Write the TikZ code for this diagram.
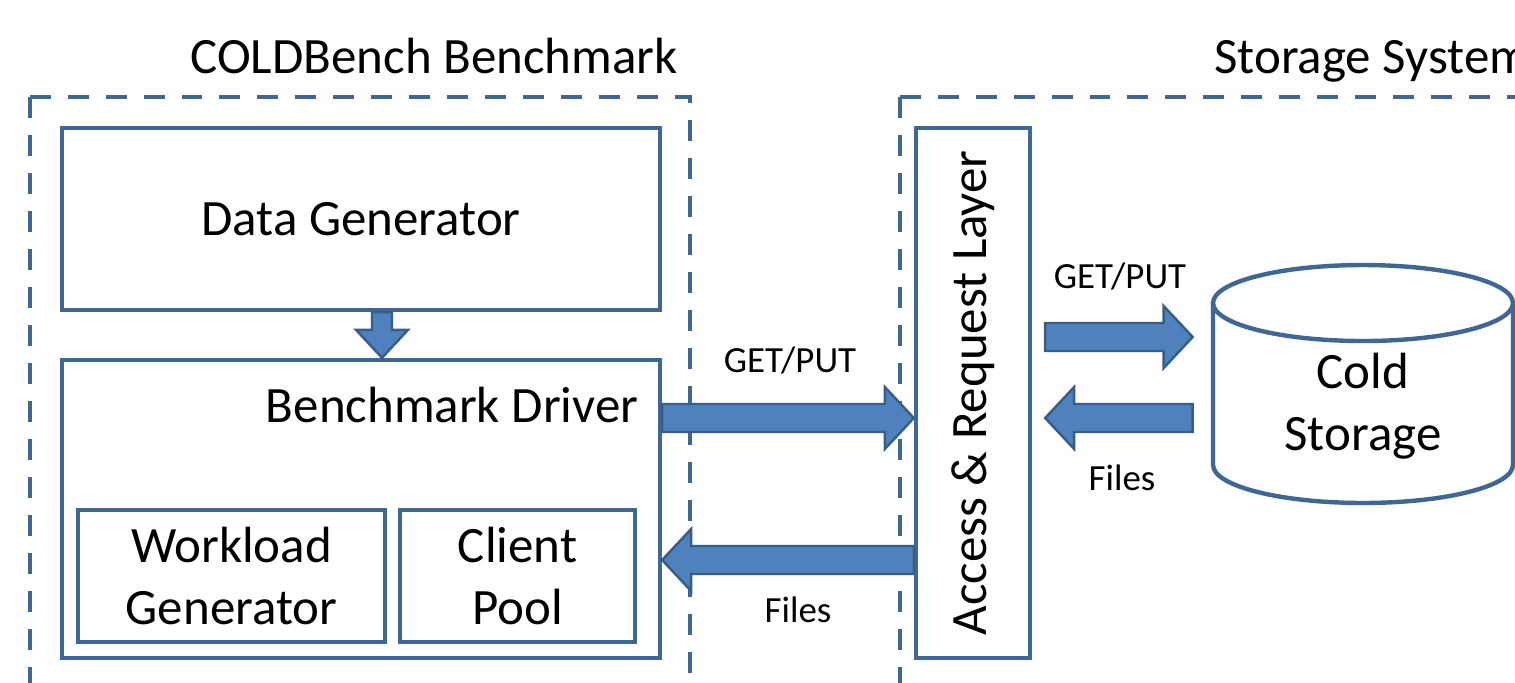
\documentclass[tikz,border=0pt]{standalone}
\usepackage{fontspec}
\setmainfont{Carlito}
\usepackage{graphicx}
\usetikzlibrary{calc,positioning}
\definecolor{boxblue}{RGB}{62,103,150}
\definecolor{arrowfill}{RGB}{79,129,189}
\definecolor{arrowline}{RGB}{56,93,138}
\newcommand{\bigtext}{\fontsize{29}{35}\selectfont}
\newcommand{\smalltext}{\fontsize{21}{25}\selectfont}
\tikzset{
  fat shaft/.store in=\fatshaft, fat head/.store in=\fathead, fat len/.store in=\fatlen,
  fat shaft=0.28cm, fat head=0.62cm, fat len=0.58cm,
  fatarrow/.style={draw=arrowline, fill=arrowfill, line width=1.4pt, line join=miter,
    to path={($(\tikztostart)!\fatshaft!90:(\tikztotarget)$)
      -- ($(\tikztotarget)!\fatlen!(\tikztostart)!\fatshaft!-90:(\tikztostart)$)
      -- ($(\tikztotarget)!\fatlen!(\tikztostart)!\fathead!-90:(\tikztostart)$)
      -- (\tikztotarget)
      -- ($(\tikztotarget)!\fatlen!(\tikztostart)!\fathead!90:(\tikztostart)$)
      -- ($(\tikztotarget)!\fatlen!(\tikztostart)!\fatshaft!90:(\tikztostart)$)
      -- ($(\tikztostart)!\fatshaft!-90:(\tikztotarget)$)
      -- cycle}},
  box/.style={draw=boxblue, line width=2.5pt, inner sep=0pt, font=\bigtext, align=center},
  boxline/.style={draw=boxblue, line width=2.5pt},
  frameline/.style={draw=boxblue, line width=2.6pt, dash pattern=on 0.42cm off 0.34cm},
  title/.style={font=\bigtext, inner sep=0pt},
  lbl/.style={font=\smalltext}
}

\begin{document}
\begin{tikzpicture}[x=0.02cm, y=-0.02cm]
    \useasboundingbox (0,0) rectangle (1515,683);
    \draw[frameline] (30,97) rectangle (690,720);
    \draw[frameline] (900,97) rectangle (1560,720);
    \node[title, anchor=base] (benchtitle) at (434,73) {COLDBench Benchmark};
    \node[title, anchor=base west] (storetitle) at (1214,73) {Storage System};

    \node[box, minimum width=11.96cm, minimum height=3.64cm] (dgen) at (361,219) {Data Generator};
    \node[box, minimum width=11.96cm, minimum height=5.96cm] (drv) at (361,509) {};
    \node[font=\bigtext] (drvtitle) at (452,405) {Benchmark Driver};
    \node[box, minimum width=6.14cm, minimum height=2.64cm] (wgen) at (231.5,576) {Workload\\Generator};
    \node[box, minimum width=4.7cm, minimum height=2.64cm] (cpool) at (517.5,576) {Client\\Pool};
    \node[box, minimum width=2.28cm, minimum height=10.6cm] (arl) at (973,393) {\rotatebox{90}{Access \& Request Layer}};
    \node[font=\bigtext, align=center, minimum width=6cm] (cold) at (1363,406) {Cold\\Storage};
    \draw[boxline] ([yshift=2.06cm]cold.center) ellipse [x radius=3cm, y radius=0.76cm];
    \draw[boxline] ([shift={(-3cm,2.06cm)}]cold.center) -- ([shift={(-3cm,-1.18cm)}]cold.center)
        arc[start angle=180, end angle=360, x radius=3cm, y radius=0.76cm] -- ([shift={(3cm,2.06cm)}]cold.center);

    \node[lbl] (getput1) at (790,360) {GET/PUT};
    \node[lbl] (files1) at (798,610) {Files};
    \node[lbl] (getput2) at (1120,276) {GET/PUT};
    \node[lbl] (files2) at (1122,478) {Files};

    \draw[fatarrow, fat shaft=0.2cm, fat head=0.52cm, fat len=0.56cm] ($(dgen.south)+(21,0)$) to ($(drv.north)+(21,0)$);
    \draw[fatarrow] (drv.east |- 0,418) to (arl.west |- 0,418);
    \draw[fatarrow] (arl.west |- 0,560) to (drv.east |- 0,560);
    \draw[fatarrow] ($(arl.east |- 0,337)+(13,0)$) to ($(cold.west |- 0,337)+(-20,0)$);
    \draw[fatarrow] ($(cold.west |- 0,418)+(-20,0)$) to ($(arl.east |- 0,418)+(13,0)$);
\end{tikzpicture}
\end{document}
